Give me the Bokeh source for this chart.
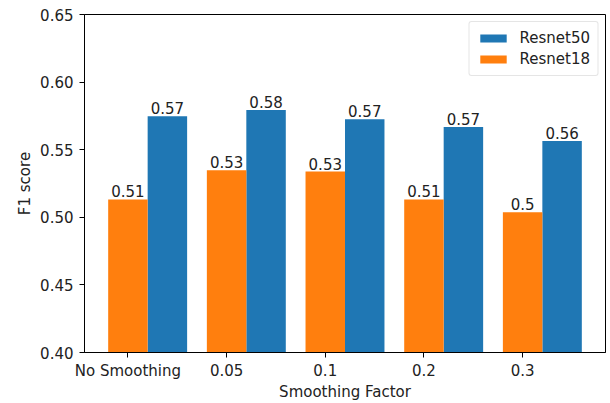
from bokeh.plotting import figure
from bokeh.models import FixedTicker, ColumnDataSource, Legend, LegendItem, Range1d
from bokeh.core.properties import value
from bokeh.embed import file_html
from bokeh.resources import INLINE

categories = ["No Smoothing", "0.05", "0.1", "0.2", "0.3"]
resnet50 = [0.5748, 0.5794, 0.5725, 0.5667, 0.5564]
resnet18 = [0.5132, 0.5348, 0.5338, 0.5132, 0.5037]
y_ticks = [0.40, 0.45, 0.50, 0.55, 0.60, 0.65]

BLUE = "#1f77b4"
ORANGE = "#ff7f0e"
FONT = "DejaVu Sans"
FS = "15px"
bar_w = 0.4

xs = list(range(len(categories)))
x18 = [x for x in xs]
x50 = [x + bar_w for x in xs]

def lab(v):
    return f"{round(v, 2):g}"

src18 = ColumnDataSource(dict(x=x18, top=resnet18, label=[lab(v) for v in resnet18]))
src50 = ColumnDataSource(dict(x=x50, top=resnet50, label=[lab(v) for v in resnet50]))

p = figure(width=607, height=403, output_backend="svg", toolbar_location=None,
           x_range=Range1d(-0.44, 4.84), y_range=Range1d(0.40, 0.65),
           min_border_left=84, min_border_right=2, min_border_top=14, min_border_bottom=49)

r50 = p.vbar(x="x", top="top", bottom=0.40, width=bar_w, source=src50,
             fill_color=BLUE, line_color=None)
r18 = p.vbar(x="x", top="top", bottom=0.40, width=bar_w, source=src18,
             fill_color=ORANGE, line_color=None)

for s in (src18, src50):
    p.text(x="x", y="top", text="label", source=s, text_align="center",
           text_baseline="bottom", y_offset=-2, text_font=value(FONT),
           text_font_size=FS, text_color="#222222")

p.xgrid.visible = False
p.ygrid.visible = False
p.outline_line_color = "black"
p.outline_line_width = 1
p.outline_line_alpha = 1

p.xaxis.ticker = FixedTicker(ticks=xs)
p.xaxis.major_label_overrides = {x: c for x, c in zip(xs, categories)}
p.yaxis.ticker = FixedTicker(ticks=y_ticks)
p.yaxis.major_label_overrides = {t: f"{t:.2f}" for t in y_ticks}

for ax in (p.xaxis[0], p.yaxis[0]):
    ax.axis_line_color = "black"
    ax.major_tick_line_color = "black"
    ax.major_tick_out = 5
    ax.major_tick_in = 0
    ax.minor_tick_line_color = None
    ax.major_label_text_font = FONT
    ax.major_label_text_font_size = FS
    ax.major_label_text_color = "#222222"
    ax.axis_label_text_font = FONT
    ax.axis_label_text_font_size = FS
    ax.axis_label_text_font_style = "normal"
    ax.axis_label_text_color = "#222222"

p.xaxis.major_label_standoff = 4
p.xaxis.axis_label_standoff = 0
p.yaxis.major_label_standoff = 6
p.yaxis.axis_label_standoff = 3

p.xaxis.axis_label = "Smoothing Factor"
p.yaxis.axis_label = "F1 score"

legend = Legend(items=[LegendItem(label="Resnet50", renderers=[r50]),
                       LegendItem(label="Resnet18", renderers=[r18])],
                location="top_right")
legend.label_text_font = FONT
legend.label_text_font_size = FS
legend.label_text_color = "#222222"
legend.label_standoff = 10
legend.glyph_width = 33
legend.glyph_height = 10
legend.spacing = 3
legend.padding = 7
legend.margin = 7
legend.border_line_color = "#cccccc"
legend.border_radius = 3
legend.background_fill_alpha = 0.8
p.add_layout(legend)

open("out.html", "w").write(file_html(p, INLINE))
